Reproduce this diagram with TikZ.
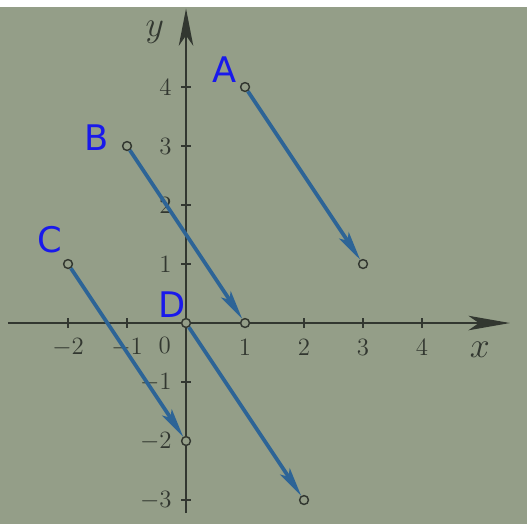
\documentclass[tikz,border=0pt]{standalone}
\usepackage{fontspec}
\newfontfamily\handfont{DejaVu Sans}
\usetikzlibrary{arrows.meta}
\definecolor{paper}{RGB}{148,158,136}
\definecolor{ink}{RGB}{50,55,48}
\definecolor{vec}{RGB}{45,100,150}
\definecolor{pen}{RGB}{25,25,235}
\tikzset{
	pt/.style={circle, draw=ink, fill=paper, line width=0.7pt, inner sep=0pt, minimum size=1.5mm},
	vecline/.style={vec, line width=1.8pt, -{Stealth[length=14pt,width=5.5pt,inset=3pt]}},
	axis/.style={ink, line width=0.7pt},
	hand/.style={pen, font=\handfont\fontsize{17}{17}\selectfont},
	ticklab/.style={ink, font=\fontsize{12}{12}\selectfont},
}
\begin{document}
\begin{tikzpicture}
	% page background
	\fill[white] (-3.153,-3.407) rectangle (5.779,5.475);
	\fill[paper] (-3.153,-3.407) rectangle (5.779,5.356);
	\useasboundingbox (-3.153,-3.407) rectangle (5.779,5.475);
	
	% axes
	\draw[axis, -{Stealth[length=20pt,width=7pt,inset=5pt]}] (-3.02,0) -- (5.49,0);
	\draw[axis, -{Stealth[length=18pt,width=7pt,inset=5pt]}] (0,-3.22) -- (0,5.33);
	\node[ink, font=\fontsize{16}{16}\selectfont] (xlab) at (4.98,-0.46) {$x$};
	\node[ink, font=\fontsize{16}{16}\selectfont] (ylab) at (-0.53,4.93) {$y$};
	
	\foreach \x in {-2,-1,1,2,3,4} {
		\draw[axis] (\x,0.08) -- (\x,-0.08);
		\node[ticklab] at (\x,-0.41) {$\x$};
	}
	\foreach \y in {-3,-2,-1,1,2,3,4} {
		\draw[axis] (-0.08,\y) -- (0.08,\y);
		\node[ticklab, anchor=east] at (-0.12,\y) {$\y$};
	}
	\node[ticklab] (orig) at (-0.36,-0.38) {$0$};
	
	% vectors
	\foreach \n/\sx/\sy/\ex/\ey in {A/1/4/3/1, B/-1/3/1/0, C/-2/1/0/-2, D/0/0/2/-3} {
		\node[pt] (\n0) at (\sx,\sy) {};
		\node[pt] (\n1) at (\ex,\ey) {};
		\draw[vecline] (\n0) -- (\n1);
	}
	
	% handwritten names
	\node[hand] (labA) at (0.66,4.29) {A};
	\node[hand] (labB) at (-1.51,3.15) {B};
	\node[hand] (labC) at (-2.31,1.41) {C};
	\node[hand] (labD) at (-0.24,0.31) {D};
	
\end{tikzpicture}
\end{document}
